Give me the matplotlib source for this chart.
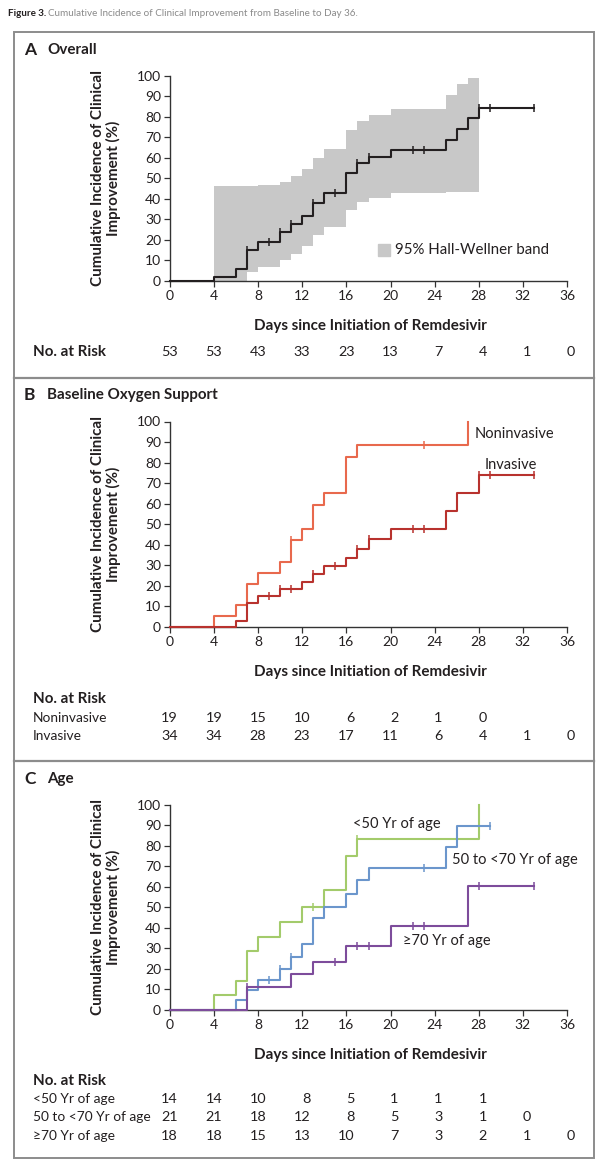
import numpy as np
import matplotlib
matplotlib.use("Agg")
import matplotlib.pyplot as plt
from matplotlib.patches import Rectangle
from matplotlib.lines import Line2D

plt.rcParams['font.family'] = ['Lato', 'DejaVu Sans']

# %% data

days = [0, 4, 8, 12, 16, 20, 24, 28, 32, 36]

# A overall
a_t = [0, 4, 6, 7, 8, 10, 11, 12, 13, 14, 16, 17, 18, 20, 25, 26, 27, 28, 33]
a_v = [0, 1.9, 5.7, 15.1, 19.0, 23.6, 27.5, 31.7, 38.0, 42.9, 52.7, 57.6,
       60.5, 63.6, 68.6, 73.8, 79.2, 84.4, 84.4]
a_cens = [7, 9, 10, 11, 13, 15, 17, 18, 22, 23, 28, 29, 33]
band_t = [4, 6, 7, 8, 10, 11, 12, 13, 14, 16, 17, 18, 20, 25, 26, 27, 28]
band_hi = [46.3, 46.3, 46.3, 46.5, 48.3, 50.9, 54.6, 60.0, 64.2, 73.5, 78.0,
           80.8, 83.9, 90.7, 95.8, 98.7, 98.7]
band_lo = [0, 0, 4.4, 6.5, 10.0, 13.0, 17.0, 22.3, 26.3, 34.5, 38.5, 40.5,
           42.6, 43.1, 43.1, 43.1, 43.1]
a_risk = [53, 53, 43, 33, 23, 13, 7, 4, 1, 0]

# B baseline oxygen support
nonin_t = [0, 4, 6, 7, 8, 10, 11, 12, 13, 14, 16, 17, 27, 27]
nonin_v = [0, 5.3, 10.5, 21.1, 26.3, 31.6, 42.1, 47.9, 59.5, 65.4, 82.7,
           88.5, 88.5, 100]
nonin_cens = [11, 23]
inv_t = [0, 6, 7, 8, 10, 12, 13, 14, 16, 17, 18, 20, 25, 26, 28, 33]
inv_v = [0, 2.9, 11.8, 15.0, 18.3, 21.7, 25.8, 29.9, 33.4, 37.8, 42.7, 47.7,
         56.5, 65.1, 74.0, 74.0]
inv_cens = [9, 10, 11, 13, 15, 17, 18, 22, 23, 28, 29, 33]
nonin_risk = [19, 19, 15, 10, 6, 2, 1, 0]
inv_risk = [34, 34, 28, 23, 17, 11, 6, 4, 1, 0]

# C age
y50_t = [0, 4, 6, 7, 8, 10, 12, 14, 16, 17, 28, 28]
y50_v = [0, 7.1, 14.3, 28.6, 35.7, 42.9, 50.0, 58.3, 75.0, 83.3, 83.3, 100]
y50_cens = [13, 17]
y5070_t = [0, 6, 7, 8, 10, 11, 12, 13, 14, 16, 17, 18, 25, 26, 29]
y5070_v = [0, 4.8, 9.5, 14.7, 20.2, 26.0, 32.0, 44.8, 50.3, 56.7, 63.3,
           69.0, 79.6, 89.8, 89.8]
y5070_cens = [9, 10, 11, 23, 29]
y70_t = [0, 7, 11, 13, 16, 20, 27, 33]
y70_v = [0, 11.1, 17.3, 23.6, 31.4, 41.0, 60.6, 60.6]
y70_cens = [7, 15, 17, 18, 22, 23, 28, 33]
y50_risk = [14, 14, 10, 8, 5, 1, 1, 1]
y5070_risk = [21, 21, 18, 12, 8, 5, 3, 1, 0]
y70_risk = [18, 18, 15, 13, 10, 7, 3, 2, 1, 0]

# %% helpers

W, H = 600, 1175
fig = plt.figure(figsize=(W / 100, H / 100), dpi=100)
TXT = '#231f20'
FS = 10.4   # risk numbers
FS_LAB = 9.9   # risk row labels


def fx(px):
    return px / W


def fy(py):
    return 1 - py / H


def step_value(t, v, x):
    i = np.searchsorted(t, x, side='right') - 1
    return v[i]


def km(ax, t, v, cens, color):
    ax.step(t, v, where='post', color=color, lw=1.5, clip_on=False, zorder=3)
    cy = [step_value(t, v, c) for c in cens]
    ax.plot(cens, cy, ls='none', marker='|', ms=5.5, mew=1.1, color=color,
            clip_on=False, zorder=4)


def make_axes(top_px, bot_px):
    ax = fig.add_axes([fx(170), fy(bot_px), fx(567) - fx(170),
                       fy(top_px) - fy(bot_px)])
    ax.set_xlim(0, 36)
    ax.set_ylim(0, 100)
    ax.set_xticks(days)
    ax.set_yticks(range(0, 101, 10))
    for s in ['top', 'right']:
        ax.spines[s].set_visible(False)
    for s in ['left', 'bottom']:
        ax.spines[s].set_color('#333333')
        ax.spines[s].set_linewidth(1.0)
    ax.tick_params(direction='out', length=4.5, width=0.9, color='#333333',
                   labelsize=10, labelcolor=TXT, pad=2)
    ax.patch.set_alpha(0)
    fig.text(fx(106), fy((top_px + bot_px) / 2),
             'Cumulative Incidence of Clinical\nImprovement (%)',
             rotation=90, ha='center', va='center', fontsize=10.9,
             fontweight='bold', color=TXT, linespacing=1.05)
    fig.text(fx(370), fy(bot_px + 45), 'Days since Initiation of Remdesivir',
             ha='center', va='center', fontsize=10.9, fontweight='bold',
             color=TXT)
    return ax


def header(letter, name, y):
    fig.text(fx(24), fy(y), letter, ha='left', va='center', fontsize=12.5,
             fontweight='bold', color=TXT)
    fig.text(fx(47), fy(y), name, ha='left', va='center', fontsize=10.9,
             fontweight='bold', color=TXT)


def risk_title(y):
    fig.text(fx(33), fy(y), 'No. at Risk', ha='left', va='center',
             fontsize=10.9, fontweight='bold', color=TXT)


def risk_row(label, counts, y):
    if label:
        fig.text(fx(33), fy(y), label, ha='left', va='center',
                 fontsize=FS_LAB, color=TXT)
    for d, n in zip(days, counts):
        px = 170 + d * (397 / 36) + 8
        fig.text(fx(px), fy(y), str(n), ha='right', va='center',
                 fontsize=FS, color=TXT)


# %% title and frame

fig.text(fx(8), fy(13), 'Figure 3.', ha='left', va='center', fontsize=7.1,
         fontweight='bold', color=TXT)
fig.text(fx(48), fy(13),
         'Cumulative Incidence of Clinical Improvement from Baseline to Day 36.',
         ha='left', va='center', fontsize=7.1, color='#8a8a8a')

fig.add_artist(Rectangle((fx(14), fy(1158)), fx(594) - fx(14),
                         fy(32) - fy(1158), transform=fig.transFigure,
                         fill=False, edgecolor='#8c8c8c', lw=1.4))
for ysep in [378, 761]:
    fig.add_artist(Line2D([fx(14), fx(594)], [fy(ysep), fy(ysep)],
                          transform=fig.transFigure, color='#8c8c8c', lw=1.6))

# %% A

header('A', 'Overall', 50)
axA = make_axes(75.7, 280.7)
axA.fill_between(band_t, band_lo, band_hi, step='post', color='#c8c8c8',
                 lw=0, zorder=1)
km(axA, a_t, a_v, a_cens, '#231f20')
axA.plot([19.4], [15], marker='s', ms=9, color='#c8c8c8', ls='none')
axA.text(20.4, 15, '95% Hall-Wellner band', ha='left', va='center',
         fontsize=10.8, color=TXT)
risk_title(352)
risk_row(None, a_risk, 352)

# %% B

header('B', 'Baseline Oxygen Support', 395)
axB = make_axes(421.5, 627)
c_non, c_inv = '#e8694d', '#b8322e'
km(axB, nonin_t, nonin_v, nonin_cens, c_non)
km(axB, inv_t, inv_v, inv_cens, c_inv)
axB.text(27.6, 94, 'Noninvasive', ha='left', va='center', fontsize=10.5,
         color=TXT)
axB.text(28.5, 79, 'Invasive', ha='left', va='center', fontsize=10.5,
         color=TXT)
risk_title(699)
risk_row('Noninvasive', nonin_risk, 718)
risk_row('Invasive', inv_risk, 736)

# %% C

header('C', 'Age', 779)
axC = make_axes(804.7, 1010)
km(axC, y50_t, y50_v, y50_cens, '#a3cb6b')
km(axC, y5070_t, y5070_v, y5070_cens, '#6b96cc')
km(axC, y70_t, y70_v, y70_cens, '#7d4c9b')
axC.text(16.6, 90.5, '<50 Yr of age', ha='left', va='center', fontsize=10.5,
         color=TXT)
axC.text(25.6, 73, '50 to <70 Yr of age', ha='left', va='center',
         fontsize=10.5, color=TXT)
axC.text(21.1, 33.6, '≥70 Yr of age', ha='left', va='center', fontsize=10.5,
         color=TXT)
risk_title(1081)
risk_row('<50 Yr of age', y50_risk, 1099)
risk_row('50 to <70 Yr of age', y5070_risk, 1117)
risk_row('≥70 Yr of age', y70_risk, 1136)

fig.savefig('out.png', dpi=100)
